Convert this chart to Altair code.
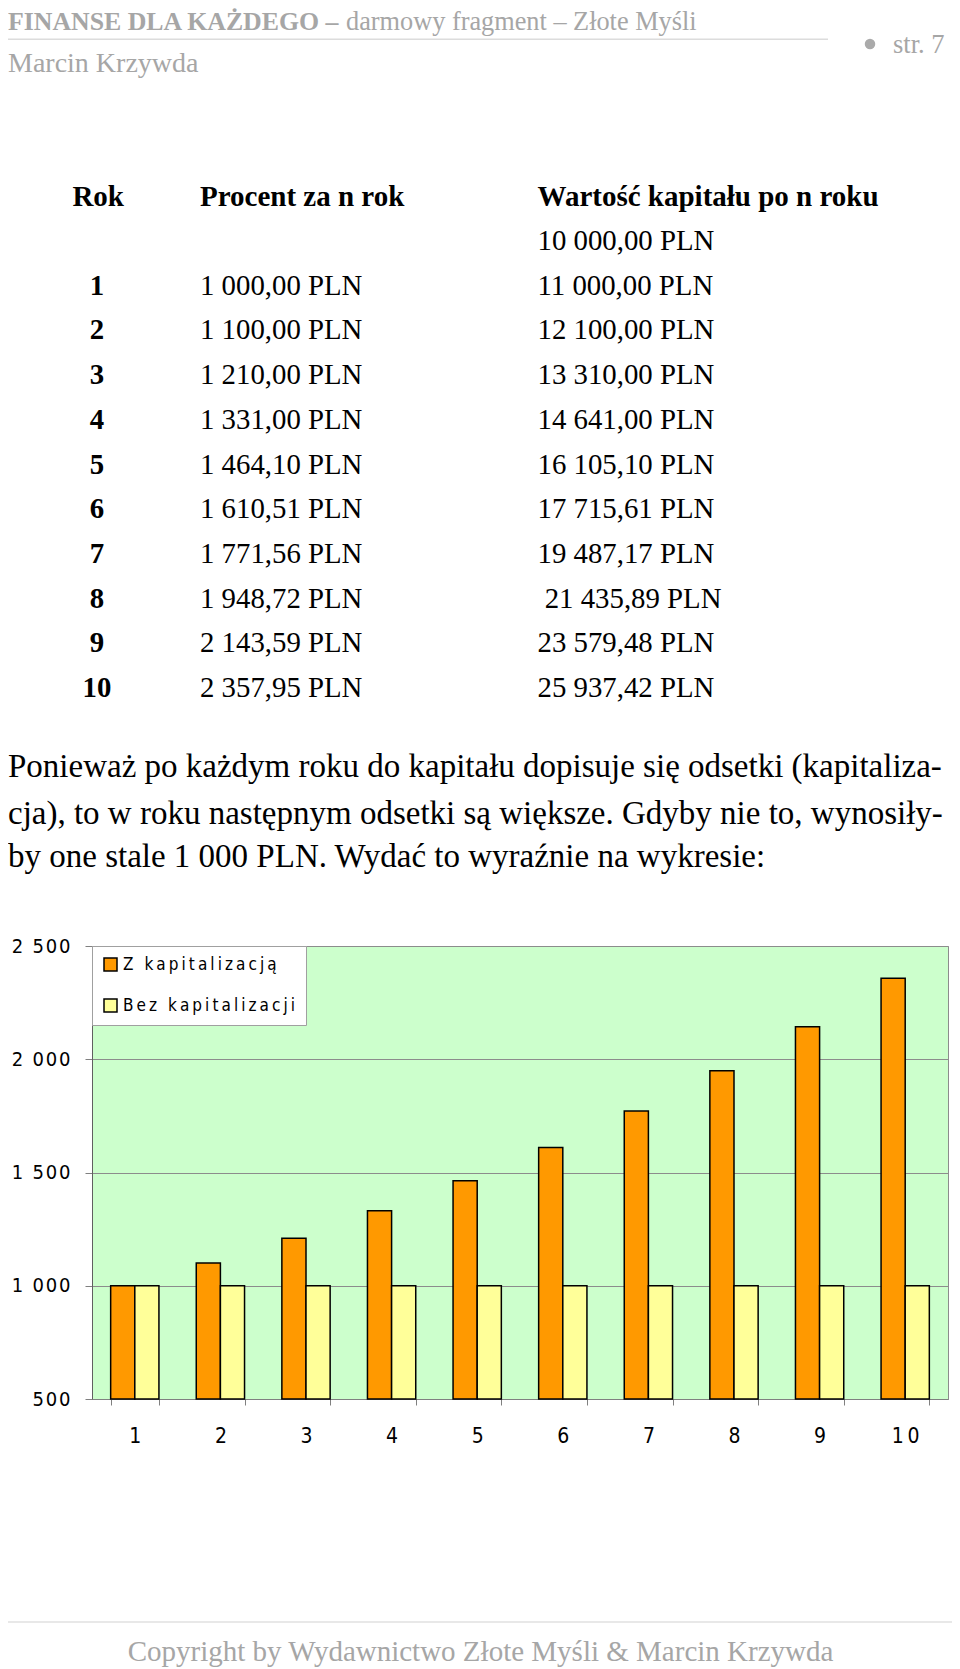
import altair as alt
import pandas as pd

# ---------------- data ----------------
years = [1, 2, 3, 4, 5, 6, 7, 8, 9, 10]
with_capitalization = [1000.00, 1100.00, 1210.00, 1331.00, 1464.10, 1610.51, 1771.56, 1948.72, 2143.59, 2357.95]
without_capitalization = [1000, 1000, 1000, 1000, 1000, 1000, 1000, 1000, 1000, 1000]
series_names = ["Z kapitalizacją", "Bez kapitalizacji"]
series_colors = ["#FF9900", "#FFFF99"]

y_tick_values = [500, 1000, 1500, 2000, 2500]
y_tick_labels = ["500", "1 000", "1 500", "2 000", "2 500"]

table_rok = ["", "1", "2", "3", "4", "5", "6", "7", "8", "9", "10"]
table_procent = ["", "1 000,00 PLN", "1 100,00 PLN", "1 210,00 PLN", "1 331,00 PLN", "1 464,10 PLN",
                 "1 610,51 PLN", "1 771,56 PLN", "1 948,72 PLN", "2 143,59 PLN", "2 357,95 PLN"]
table_wartosc = ["10 000,00 PLN", "11 000,00 PLN", "12 100,00 PLN", "13 310,00 PLN", "14 641,00 PLN",
                 "16 105,10 PLN", "17 715,61 PLN", "19 487,17 PLN", "\u200b\u00a021 435,89 PLN",
                 "23 579,48 PLN", "25 937,42 PLN"]
table_headers = ["Rok", "Procent za n rok", "Wartość kapitału po n roku"]

header_bold = "FINANSE DLA KAŻDEGO –"
header_rest = "darmowy fragment – Złote Myśli"
header_author = "Marcin Krzywda"
header_page = "str. 7"
paragraph_lines = [
    "Ponieważ po każdym roku do kapitału dopisuje się odsetki (kapitaliza-",
    "cja), to w roku następnym odsetki są większe. Gdyby nie to, wynosiły-",
    "by one stale 1 000 PLN. Wydać to wyraźnie na wykresie:",
]
footer_text = "Copyright by Wydawnictwo Złote Myśli & Marcin Krzywda"

# ---------------- helpers ----------------
THIN = "\u2009"
HAIR = "\u200a"
NARROW = "Liberation Sans Narrow, DejaVu Sans Condensed, Arial Narrow, sans-serif"
SERIF = "Liberation Serif, Times New Roman, serif"
GREY = "#a6a6a6"

OX, OY = 92, 946          # page position of plot origin


def px(x):
    return x - OX


def py(y):
    return y - OY


def spaced(s, sep=THIN):
    return sep.join(s)


def mapping_expr(keys, labels, key="datum.value", quote=False, sep=THIN):
    parts = []
    for k, lab in zip(keys, labels):
        kk = f"'{k}'" if quote else str(k)
        parts.append(f"{key} == {kk} ? '{spaced(lab, sep)}' : ")
    return "".join(parts) + "''"


def txt(s, x, y, size, color="black", weight="normal", align="left", font=SERIF):
    return alt.Chart(pd.DataFrame({"t": [s]})).mark_text(
        align=align, baseline="alphabetic", font=font, fontSize=size,
        fontWeight=weight, color=color
    ).encode(text="t:N", x=alt.value(px(x)), y=alt.value(py(y)))


one = pd.DataFrame({"a": [0]})

# ---------------- bars ----------------
bars_df = pd.DataFrame({
    "year": years * 2,
    "series": [series_names[0]] * len(years) + [series_names[1]] * len(years),
    "value": with_capitalization + without_capitalization,
})

bars = alt.Chart(bars_df).mark_bar(stroke="black", strokeWidth=1.5).encode(
    x=alt.X("year:O", scale=alt.Scale(paddingInner=0.436, paddingOuter=0.218),
            axis=alt.Axis(title=None, labelAngle=0, tickBand="extent", tickSize=6,
                          tickColor="#808080", domainColor="#808080", labelFont=NARROW,
                          labelFontSize=21, labelPadding=20, labelColor="black",
                          labelExpr="join(split(datum.label, ''), '" + THIN + "')")),
    xOffset=alt.XOffset("series:N", sort=series_names),
    y=alt.Y("value:Q", scale=alt.Scale(domain=[500, 2500], zero=False, nice=False),
            axis=alt.Axis(title=None, values=y_tick_values, grid=True, gridColor="#8c8c8c",
                          gridWidth=1, domainColor="#606060", tickColor="#808080", tickSize=7,
                          labelPadding=15, labelFont=NARROW, labelFontSize=20, labelColor="black",
                          labelExpr=mapping_expr(y_tick_values, y_tick_labels, sep=HAIR))),
    y2=alt.datum(500),
    color=alt.Color("series:N", sort=series_names,
                    scale=alt.Scale(domain=series_names, range=series_colors),
                    legend=alt.Legend(orient="none", legendX=0, legendY=0, title=None,
                                      fillColor="white", strokeColor="#a0a0a0", padding=10,
                                      symbolType="square", symbolSize=169,
                                      symbolStrokeColor="black", symbolStrokeWidth=1.5,
                                      symbolOpacity=1, labelFont=NARROW, labelFontSize=17,
                                      labelLimit=400, labelOffset=4, rowPadding=22,
                                      labelColor="black",
                                      labelExpr=mapping_expr(series_names, series_names,
                                                             key="datum.label", quote=True))),
)

# ---------------- table ----------------
table_df = pd.DataFrame({
    "row": list(range(len(table_wartosc))),
    "rok": table_rok,
    "procent": table_procent,
    "wartosc": table_wartosc,
})
row_y = alt.Y("row:Q", scale=alt.Scale(domain=[0, 10], range=[py(250), py(697)]), axis=None)


def table_col(field, x, align, weight):
    return alt.Chart(table_df).mark_text(
        align=align, baseline="alphabetic", font=SERIF, fontSize=28.8,
        fontWeight=weight, color="black"
    ).encode(text=f"{field}:N", x=alt.value(px(x)), y=row_y)


layers = [
    bars,
    # header
    alt.Chart(one).mark_rule(color="#dcdcdc", strokeWidth=1.5).encode(
        x=alt.value(px(8)), x2=alt.value(px(828)), y=alt.value(py(39.3))),
    alt.Chart(one).mark_circle(color="#aaaaaa", opacity=1, size=110).encode(
        x=alt.value(px(870)), y=alt.value(py(44))),
    txt(header_bold, 8, 30, 25.8, color=GREY, weight="bold"),
    txt(header_rest, 346, 30, 26.3, color=GREY),
    txt(header_author, 8, 72, 28, color=GREY),
    txt(header_page, 893, 52.7, 26.5, color=GREY),
    # table
    txt(table_headers[0], 72.4, 205.5, 29, weight="bold"),
    txt(table_headers[1], 200, 205.5, 29, weight="bold"),
    txt(table_headers[2], 537.5, 205.5, 29, weight="bold"),
    table_col("rok", 97, "center", "bold"),
    table_col("procent", 200, "left", "normal"),
    table_col("wartosc", 537.5, "left", "normal"),
    # paragraph
    txt(paragraph_lines[0], 8, 777, 33),
    txt(paragraph_lines[1], 8, 824, 33),
    txt(paragraph_lines[2], 8, 867, 33),
    # footer
    alt.Chart(one).mark_rule(color="#e0e0e0", strokeWidth=1.5).encode(
        x=alt.value(px(8)), x2=alt.value(px(952)), y=alt.value(py(1622))),
    txt(footer_text, 480.5, 1661, 29, color=GREY, align="center"),
]

chart = alt.layer(*layers).resolve_scale(y="independent").properties(
    width=856, height=453,
    autosize=alt.AutoSizeParams(type="none"),
    padding={"left": 84, "top": 938, "right": 4, "bottom": 270},
    background="white",
).configure_view(fill="#CCFFCC", stroke="#8c8c8c", strokeWidth=1)

chart.save("out.html", embed_options={"renderer": "svg", "actions": False})
